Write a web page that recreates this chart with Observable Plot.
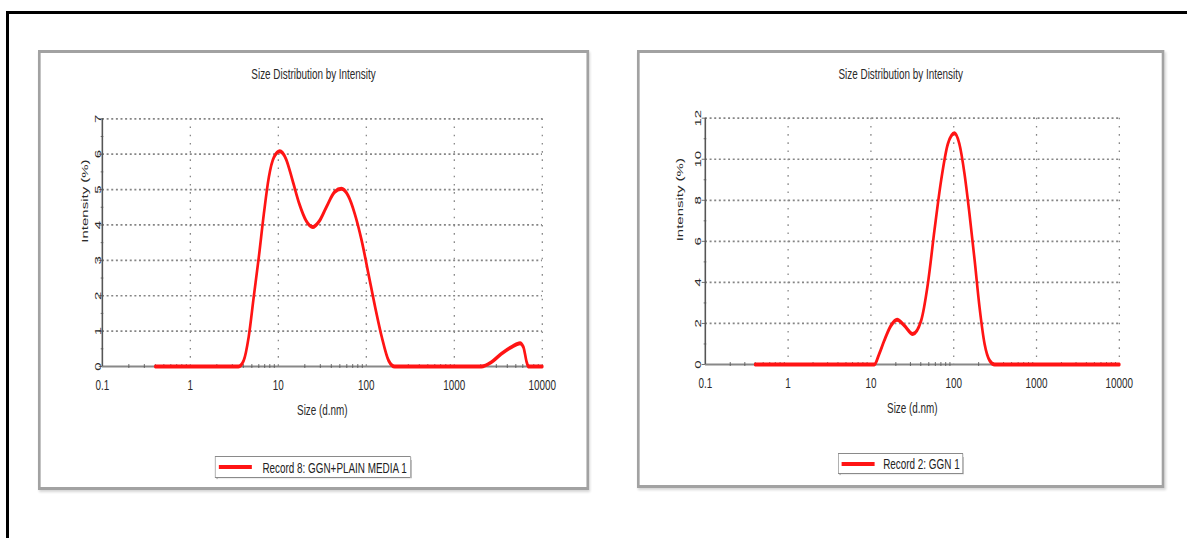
<!DOCTYPE html>
<html>
<head>
<meta charset="utf-8">
<script src="https://cdn.jsdelivr.net/npm/d3@7"></script>
<script src="https://cdn.jsdelivr.net/npm/@observablehq/plot@0.6"></script>
<style>
  html, body { margin: 0; padding: 0; background: #fff; }
  body { width: 1187px; height: 538px; position: relative; overflow: hidden;
         font-family: "Liberation Sans", Arial, sans-serif; color: #333; }
  #outer { position: absolute; left: 6px; top: 11px; width: 1300px; height: 700px;
           border-left: 3px solid #000; border-top: 3px solid #000; }
  .panel { position: absolute; top: 50px; transform-origin: 0 0; transform: scaleX(0.66); }
  .frame { position: absolute; left: 0; top: 0; right: 0; bottom: 0; box-sizing: border-box;
           border-style: solid; border-color: #a2a2a2; border-width: 3px 4.5px;
           box-shadow: 2px 2px 3px #d6d6d6; background: #fff; }
  .panel svg { position: absolute; left: 0; top: 0; }
  .title { position: absolute; left: 0; right: 0; top: 15px; line-height: 18px;
           text-align: center; font-size: 15px; color: #2a2a2a; }
  .legend { position: absolute; box-sizing: border-box; border: 1.5px solid #8a8a8a;
            box-shadow: 1px 1px 1px #bdbdbd; background: #fff; }
  .legend .swatch { position: absolute; top: 50%; height: 4px; margin-top: -2px; background: #ff1414; }
  .legend .lab { position: absolute; top: 0; bottom: 0; display: flex; align-items: center;
                 font-size: 15px; color: #222; white-space: nowrap; }
</style>
</head>
<body>
<div id="outer"></div>

<div class="panel" id="pA" style="left:38px; width:835px; height:440px;">
  <div class="frame"></div>
  <div class="title">Size Distribution by Intensity</div>
  <div class="legend" style="left:268px; top:406px; width:297px; height:22px;">
    <div class="swatch" style="left:5px; width:50px;"></div>
    <div class="lab" style="left:71px;">Record 8: GGN+PLAIN MEDIA 1</div>
  </div>
</div>

<div class="panel" id="pB" style="left:637px; width:799px; height:438px;">
  <div class="frame"></div>
  <div class="title">Size Distribution by Intensity</div>
  <div class="legend" style="left:305px; top:403px; width:189px; height:21px;">
    <div class="swatch" style="left:4px; width:50px;"></div>
    <div class="lab" style="left:67px;">Record 2: GGN 1</div>
  </div>
</div>

<script>
// ---- data ----
const sizeTicks = [0.1, 1, 10, 100, 1000, 10000];
const intensityTicksA = [0, 1, 2, 3, 4, 5, 6, 7];
const intensityMinorA = [0.5, 1.5, 2.5, 3.5, 4.5, 5.5, 6.5];
const intensityTicksB = [0, 2, 4, 6, 8, 10, 12];
const intensityMinorB = [1, 3, 5, 7, 9, 11];

// Record 8: GGN+PLAIN MEDIA 1
const sizeA = [0.4, 3.53, 4.04, 4.6, 5.25, 6.0, 6.85, 7.8, 8.9, 10.4, 12.2, 14.5, 17.3, 20.7, 24.6,
               29.4, 35.1, 43.6, 52, 62, 74, 88.5, 105.7, 126, 150, 179, 210, 2030, 2630, 3430,
               4460, 5580, 6100, 6650, 6950, 10000];
const intensityA = [0, 0, 0.17, 0.83, 1.96, 3.09, 4.32, 5.35, 5.91, 6.08, 5.87, 5.26, 4.6, 4.12, 3.94,
                    4.12, 4.5, 4.93, 5.02, 4.83, 4.31, 3.56, 2.62, 1.68, 0.83, 0.17, 0, 0, 0.12, 0.36,
                    0.55, 0.66, 0.55, 0.12, 0, 0];

// Record 2: GGN 1
const sizeB = [0.4, 11, 12.6, 14.5, 17.5, 20.7, 25.3, 32, 40.4, 48.7, 58.5, 70.4, 85, 102, 117,
               135, 155, 179, 205, 236, 272, 312, 10000];
const intensityB = [0, 0, 0.52, 1.17, 1.9, 2.18, 1.9, 1.49, 2.14, 3.93, 6.53, 8.96, 10.75, 11.27, 10.75,
                    9.29, 7.34, 5.07, 2.79, 1.0, 0.19, 0, 0];

// minor ticks of the log axis (2..9 in each decade)
const minorSize = [];
for (let e = -1; e < 4; e++) for (let k = 2; k <= 9; k++) minorSize.push(+(k * Math.pow(10, e)).toPrecision(3));

function makePlot(o) {
  const data = o.sizes.map((s, i) => ({size: s, intensity: o.values[i]}));
  return Plot.plot({
    width: o.width, height: o.height,
    marginLeft: o.mL, marginRight: o.mR, marginTop: o.mT, marginBottom: o.mB,
    x: {type: "log", domain: [0.1, 10000], label: null},
    y: {domain: [0, o.yMax], label: null},
    style: {fontFamily: "'Liberation Sans', Arial, sans-serif", fontSize: "15px",
            color: "#2a2a2a", background: "transparent", overflow: "visible"},
    marks: [
      Plot.gridX(sizeTicks.slice(1), {stroke: "#858585", strokeOpacity: 1, strokeWidth: 1.9, strokeDasharray: "1.6,6.6"}),
      Plot.gridY(o.yTicks.slice(1), {stroke: "#858585", strokeOpacity: 1, strokeWidth: 1.7, strokeDasharray: "3,4"}),
      Plot.ruleY([0], {stroke: "#888", strokeWidth: 2.2}),
      Plot.ruleX([0.1], {stroke: "#555", strokeWidth: 2.4}),
      Plot.axisX(minorSize, {tickSize: 4, dy: -2, tickFormat: () => "", stroke: "#555", label: null}),
      Plot.axisX(sizeTicks, {tickSize: 0, tickPadding: 13, tickFormat: d => String(d), fontSize: 15, label: null}),
      Plot.axisY(o.yMinor, {tickSize: 4, dx: 2, tickFormat: () => "", stroke: "#555", label: null}),
      Plot.axisY(o.yTicks, {tickSize: 5, tickFormat: () => "", stroke: "#555", label: null}),
      Plot.text(o.yTicks, {y: d => d, text: d => String(d), frameAnchor: "left", rotate: -90,
                           textAnchor: "middle", lineAnchor: "bottom", dx: o.yTickDx, fontSize: 15, fill: "#2a2a2a"}),
      Plot.text(["Size (d.nm)"], {frameAnchor: "bottom", dy: 44, lineAnchor: "middle", fontSize: 15, fill: "#2a2a2a"}),
      Plot.text(["Intensity (%)"], {frameAnchor: "left", dx: o.yLabelDx, rotate: -90, lineAnchor: "middle", fontSize: 15, fill: "#2a2a2a"}),
      Plot.line(data, {x: "size", y: "intensity", stroke: "#ff1414", strokeWidth: 4, curve: "monotone-x"})
    ]
  });
}

document.getElementById("pA").appendChild(makePlot({
  sizes: sizeA, values: intensityA, yTicks: intensityTicksA, yMinor: intensityMinorA, yMax: 7,
  width: 835, height: 440, mL: 97, mR: 71.4, mT: 68.3, mB: 124, yTickDx: -2.5, yLabelDx: -27
}));
document.getElementById("pB").appendChild(makePlot({
  sizes: sizeB, values: intensityB, yTicks: intensityTicksB, yMinor: intensityMinorB, yMax: 12,
  width: 799, height: 438, mL: 103, mR: 68.7, mT: 67.7, mB: 124, yTickDx: -6.5, yLabelDx: -39
}));
</script>
</body>
</html>
